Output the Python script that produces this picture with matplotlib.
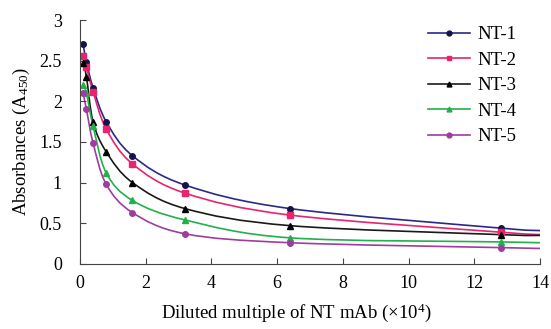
import matplotlib
matplotlib.use("Agg")
import matplotlib.pyplot as plt
from matplotlib.ticker import FormatStrFormatter
from matplotlib.path import Path
from matplotlib.patches import PathPatch
from matplotlib.lines import Line2D

plt.rcParams['font.family'] = ['Liberation Serif', 'DejaVu Serif']
plt.rcParams['mathtext.fontset'] = 'custom'
plt.rcParams['mathtext.rm'] = 'Liberation Serif'
plt.rcParams['mathtext.it'] = 'Liberation Serif:italic'

# dilution (x10^4)
dilution = [0.1, 0.2, 0.4, 0.8, 1.6, 3.2, 6.4, 12.8, 14]

nt1 = [2.70, 2.48, 2.17, 1.75, 1.33, 0.97, 0.68, 0.44, 0.41]
nt2 = [2.56, 2.42, 2.12, 1.66, 1.23, 0.87, 0.60, 0.39, 0.36]
nt3 = [2.47, 2.30, 1.75, 1.38, 1.00, 0.68, 0.47, 0.36, 0.35]
nt4 = [2.20, 2.10, 1.70, 1.12, 0.78, 0.54, 0.32, 0.27, 0.26]
nt5 = [2.10, 1.90, 1.49, 0.98, 0.63, 0.37, 0.26, 0.20, 0.19]

names = ['NT-1', 'NT-2', 'NT-3', 'NT-4', 'NT-5']
series = [nt1, nt2, nt3, nt4, nt5]
colors = ['#2a2a86', '#e8246e', '#1a1a1a', '#22b04b', '#a03c9c']
mcolors = ['#141448', '#e8246e', '#000000', '#22b04b', '#a03c9c']
markers = ['o', 's', '^', '^', 'o']


def smooth_path(xs, ys):
    # smoothed line like a spreadsheet "smooth line" (Catmull-Rom as bezier)
    pts = list(zip(xs, ys))
    verts = [pts[0]]
    codes = [Path.MOVETO]
    n = len(pts)
    for i in range(n - 1):
        p0 = pts[i - 1] if i > 0 else pts[i]
        p1 = pts[i]
        p2 = pts[i + 1]
        p3 = pts[i + 2] if i + 2 < n else pts[i + 1]
        c1 = (p1[0] + (p2[0] - p0[0]) / 6, p1[1] + (p2[1] - p0[1]) / 6)
        c2 = (p2[0] - (p3[0] - p1[0]) / 6, p2[1] - (p3[1] - p1[1]) / 6)
        verts += [c1, c2, p2]
        codes += [Path.CURVE4] * 3
    return Path(verts, codes)


fig = plt.figure(figsize=(5.51, 3.29), dpi=100)
ax = fig.add_axes([0.145, 0.198, 0.835, 0.741])

handles = []
for name, vals, c, mc, m in zip(names, series, colors, mcolors, markers):
    ax.add_patch(PathPatch(smooth_path(dilution, vals), facecolor='none',
                           edgecolor=c, lw=1.2))
    # last point (edge of axis) has no marker
    ax.plot(dilution[:-1], vals[:-1], linestyle='none', marker=m,
            markersize=4, markerfacecolor=mc, markeredgecolor=mc)
    handles.append(Line2D([], [], color=c, lw=1.2, marker=m, markersize=3.5,
                          markerfacecolor=mc, markeredgecolor=mc, label=name))

ax.set_xlim(0, 14)
ax.set_ylim(0, 3)
ax.set_xticks(range(0, 15, 2))
ax.set_yticks([0, 0.5, 1, 1.5, 2, 2.5, 3])
ax.yaxis.set_major_formatter(FormatStrFormatter('%g'))
ax.tick_params(direction='in', length=4, labelsize=13, color='#444444')
ax.tick_params(axis='x', pad=8)
ax.tick_params(axis='y', pad=13)
ax.spines['top'].set_visible(False)
ax.spines['right'].set_visible(False)
ax.spines['left'].set_color('#444444')
ax.spines['bottom'].set_color('#444444')

ax.set_xlabel('Diluted multiple of NT mAb (×10$^4$)', fontsize=13.5,
              labelpad=7, x=0.47)
ax.set_ylabel('Absorbances (A$_{450}$)', fontsize=13.5, labelpad=5)

ax.legend(handles=handles, loc='upper right', frameon=False, fontsize=13.5,
          handlelength=2.2, handletextpad=0.4, labelspacing=0.45,
          bbox_to_anchor=(0.985, 1.045))

fig.savefig('out.png', dpi=100)
